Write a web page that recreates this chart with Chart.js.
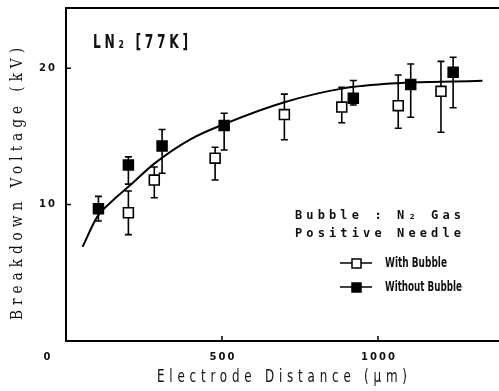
<!DOCTYPE html>
<html lang="en">
<head>
  <meta charset="UTF-8">
  <title>Breakdown Voltage vs Electrode Distance</title>
  <script src="https://cdn.jsdelivr.net/npm/chart.js@4"></script>
  <style>
    html, body { margin: 0; padding: 0; background: #fff; overflow: hidden; }
    #wrap { width: 499px; height: 391px; }
  </style>
</head>
<body>
  <div id="wrap"><canvas id="grafico" width="499" height="391"></canvas></div>
  <script>
    // open squares: with bubble
    const withX = [200, 283, 478, 700, 884, 1065, 1202];
    const withY = [9.4, 11.8, 13.4, 16.6, 17.15, 17.25, 18.3];
    const withHigh = [11.0, 12.75, 14.2, 18.1, 18.6, 19.5, 20.5];
    const withLow = [7.8, 10.5, 11.8, 14.75, 16.0, 15.6, 15.3];

    // filled squares: without bubble
    const withoutX = [104, 200, 308, 507, 921, 1105, 1241];
    const withoutY = [9.7, 12.9, 14.3, 15.8, 17.8, 18.8, 19.7];
    const withoutHigh = [10.6, 13.5, 15.5, 16.7, 19.1, 20.3, 20.8];
    const withoutLow = [8.8, 11.5, 12.3, 14.0, 17.3, 16.4, 17.1];

    // fitted curve
    const curveX = [53, 100, 150, 200, 283, 400, 507, 700, 884, 1065, 1200, 1335];
    const curveY = [6.9, 9.1, 10.3, 11.3, 13.0, 14.8, 15.9, 17.5, 18.5, 18.9, 19.0, 19.07];

    const xTicks = [0, 500, 1000];
    const yTicks = [0, 10, 20];

    const pts = (xs, ys) => xs.map((x, i) => ({ x: x, y: ys[i] }));

    // draws txt from (x,y) so that it spans `width`; sx squeezes glyphs horizontally,
    // the rest is made up with letter spacing (sx null = squeeze only)
    function drawText(ctx, txt, x, y, width, sx) {
      ctx.save();
      ctx.letterSpacing = '0px';
      ctx.textAlign = 'left';
      const w = ctx.measureText(txt).width;
      ctx.translate(x, y);
      if (sx == null) {
        ctx.scale(width / w, 1);
      } else {
        ctx.scale(sx, 1);
        const sp = (width / sx - w) / (txt.length - 1);
        ctx.letterSpacing = sp + 'px';
      }
      ctx.fillText(txt, 0, 0);
      ctx.restore();
    }

    const figura = {
      id: 'figura',
      beforeDatasetsDraw(chart) {
        const ctx = chart.ctx, a = chart.chartArea;
        const xs = chart.scales.x, ys = chart.scales.y;
        ctx.save();
        ctx.strokeStyle = '#000';
        // frame: left, top, bottom (right side is cut off)
        ctx.lineWidth = 2;
        ctx.beginPath();
        ctx.moveTo(a.right, a.top); ctx.lineTo(a.left, a.top);
        ctx.lineTo(a.left, a.bottom); ctx.lineTo(a.right, a.bottom);
        ctx.stroke();
        // inward ticks
        ctx.lineWidth = 1.5;
        ctx.beginPath();
        yTicks.filter(v => v > 0).forEach(v => {
          const py = ys.getPixelForValue(v);
          ctx.moveTo(a.left, py); ctx.lineTo(a.left + 5, py);
        });
        xTicks.filter(v => v > 0).forEach(v => {
          const px = xs.getPixelForValue(v);
          ctx.moveTo(px, a.bottom); ctx.lineTo(px, a.bottom - 5);
        });
        ctx.stroke();
        // error bars
        ctx.lineWidth = 1.6;
        const bars = (xv, lo, hi) => {
          xv.forEach((x, i) => {
            const px = xs.getPixelForValue(x);
            const p1 = ys.getPixelForValue(lo[i]);
            const p2 = ys.getPixelForValue(hi[i]);
            ctx.beginPath();
            ctx.moveTo(px, p1); ctx.lineTo(px, p2);
            ctx.moveTo(px - 3.5, p1); ctx.lineTo(px + 3.5, p1);
            ctx.moveTo(px - 3.5, p2); ctx.lineTo(px + 3.5, p2);
            ctx.stroke();
          });
        };
        bars(withX, withLow, withHigh);
        bars(withoutX, withoutLow, withoutHigh);
        ctx.restore();
      },
      afterDatasetsDraw(chart) {
        const ctx = chart.ctx, a = chart.chartArea;
        const xs = chart.scales.x, ys = chart.scales.y;
        ctx.save();
        ctx.fillStyle = '#111';
        ctx.textBaseline = 'middle';

        // tick labels
        ctx.font = 'bold 10px "DejaVu Sans"';
        ctx.letterSpacing = '2px';
        ctx.textAlign = 'right';
        yTicks.filter(v => v > 0).forEach(v => {
          ctx.fillText(String(v), a.left - 9, ys.getPixelForValue(v));
        });
        ctx.textAlign = 'center';
        xTicks.filter(v => v > 0).forEach(v => {
          ctx.fillText(String(v), xs.getPixelForValue(v) + 1, a.bottom + 16);
        });
        ctx.fillText('0', a.left - 18, a.bottom + 16);
        ctx.letterSpacing = '0px';

        // axis titles
        ctx.font = '17px "DejaVu Sans Condensed"';
        drawText(ctx, 'Electrode Distance (\u03bcm)', 157, 378, 250, 0.78);
        ctx.save();
        ctx.translate(18, 320);
        ctx.rotate(-Math.PI / 2);
        ctx.font = '16px "DejaVu Serif"';
        drawText(ctx, 'Breakdown Voltage (kV)', 0, 0, 272, 0.85);
        ctx.restore();

        // annotations
        ctx.font = 'bold 19px "DejaVu Sans Condensed"';
        drawText(ctx, 'LN\u2082 [77K]', 93, 43, 95, 0.72);
        ctx.font = 'bold 12px "DejaVu Sans Mono"';
        drawText(ctx, 'Bubble : N\u2082 Gas', 295, 216, 166, 1);
        drawText(ctx, 'Positive Needle', 295, 234, 166, 1);

        // legend
        const rows = [
          { label: 'With Bubble', y: 263, fill: '#fff', w: 62 },
          { label: 'Without Bubble', y: 287, fill: '#000', w: 77 }
        ];
        rows.forEach(r => {
          ctx.strokeStyle = '#000';
          ctx.lineWidth = 1.5;
          ctx.beginPath();
          ctx.moveTo(340, r.y); ctx.lineTo(372, r.y);
          ctx.stroke();
          ctx.fillStyle = r.fill;
          ctx.fillRect(352, r.y - 4, 9, 9);
          ctx.strokeRect(352, r.y - 4, 9, 9);
          ctx.fillStyle = '#111';
          ctx.font = 'bold 14px "DejaVu Sans Condensed"';
          drawText(ctx, r.label, 385, r.y, r.w, null);
        });
        ctx.restore();
      }
    };

    new Chart(document.getElementById('grafico'), {
      type: 'scatter',
      data: {
        datasets: [
          {
            type: 'line',
            label: 'fit',
            data: pts(curveX, curveY),
            borderColor: '#000',
            borderWidth: 2,
            pointRadius: 0,
            cubicInterpolationMode: 'monotone',
            fill: false
          },
          {
            label: 'With Bubble',
            data: pts(withX, withY),
            pointStyle: 'rect',
            pointRadius: 7,
            backgroundColor: '#fff',
            borderColor: '#000',
            borderWidth: 1.6
          },
          {
            label: 'Without Bubble',
            data: pts(withoutX, withoutY),
            pointStyle: 'rect',
            pointRadius: 7,
            backgroundColor: '#000',
            borderColor: '#000',
            borderWidth: 1.6
          }
        ]
      },
      options: {
        responsive: false,
        animation: false,
        devicePixelRatio: 1,
        layout: { autoPadding: false, padding: { left: 66, top: 8, right: 0, bottom: 50 } },
        plugins: { legend: { display: false }, tooltip: { enabled: false } },
        scales: {
          x: { type: 'linear', min: 0, max: 1388, display: false },
          y: { type: 'linear', min: 0, max: 24.41, display: false }
        }
      },
      plugins: [figura]
    });
  </script>
</body>
</html>
